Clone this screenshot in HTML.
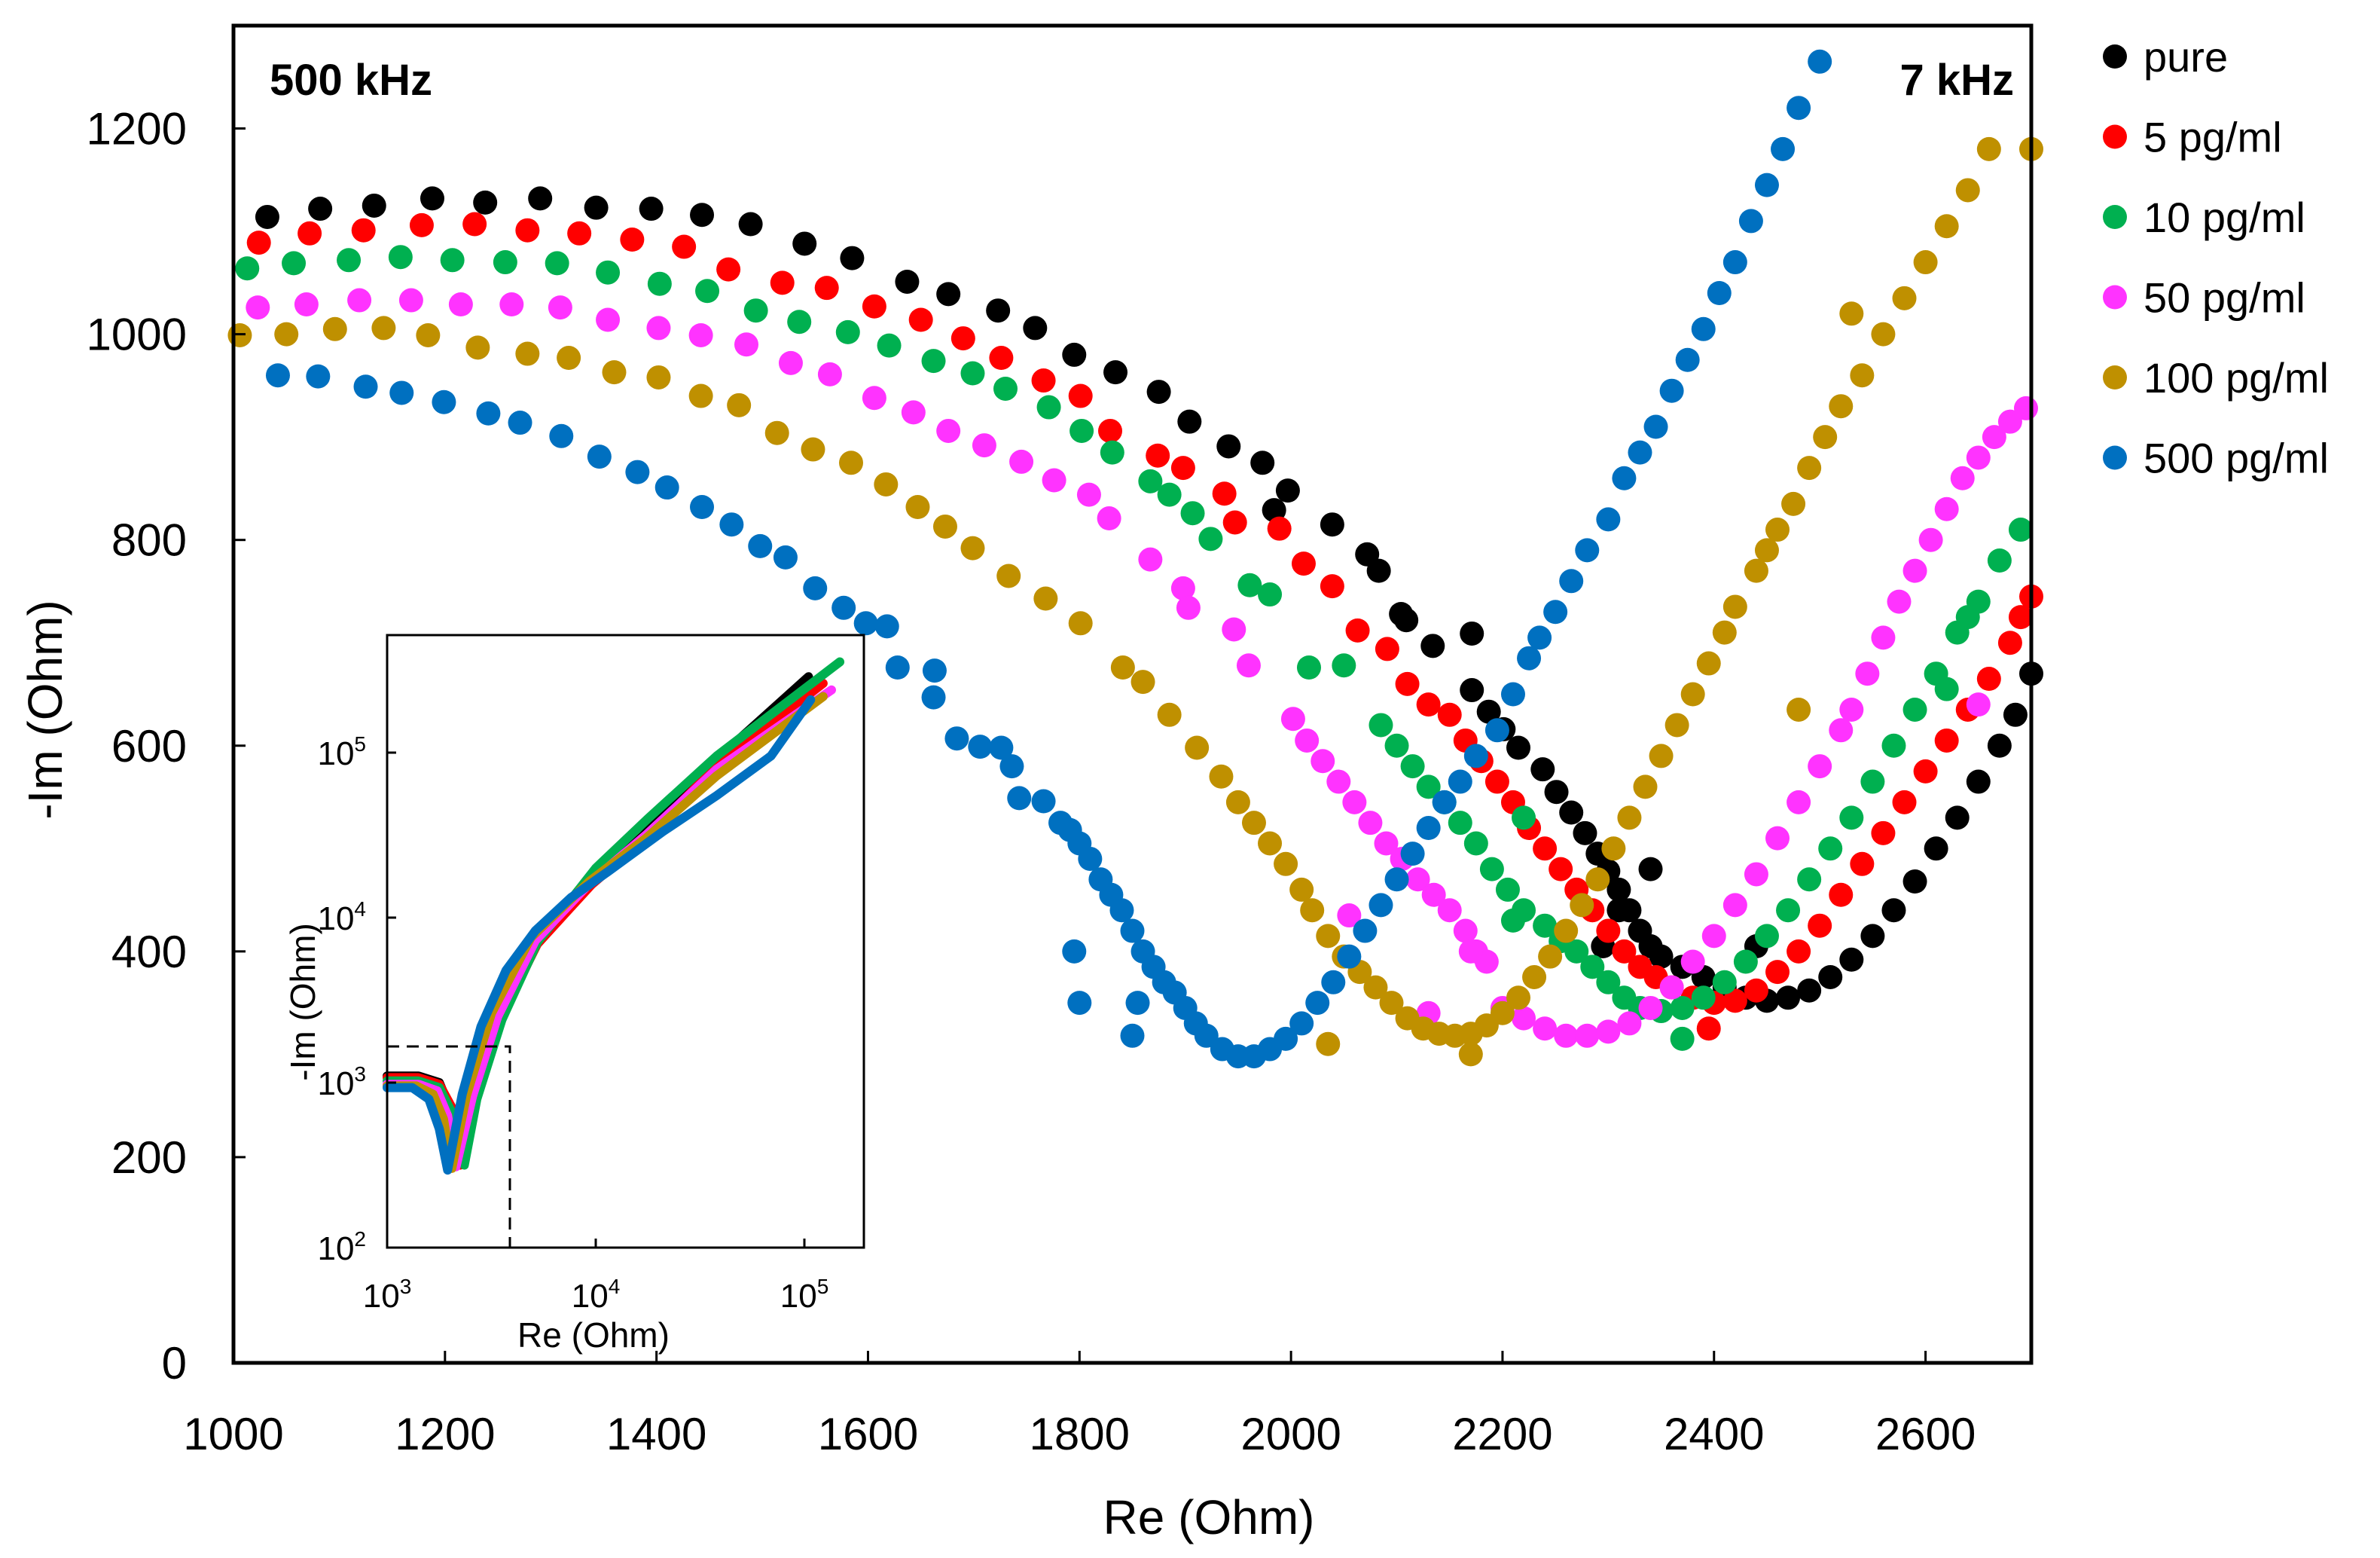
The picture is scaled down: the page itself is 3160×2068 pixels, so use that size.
<!DOCTYPE html>
<html><head><meta charset="utf-8"><style>
html,body{margin:0;padding:0;background:#fff;}
svg{display:block;font-family:"Liberation Sans",Arial,sans-serif;}
</style></head><body>
<svg id="chart" width="3160" height="2068" viewBox="0 0 3160 2068" xmlns="http://www.w3.org/2000/svg">
<rect width="3160" height="2068" fill="#fff"/>
<g id="main-marks"></g>
<g id="inset"></g>
<g id="axes"></g>
<g id="legend"></g>
<text x="358" y="126" font-size="58" font-weight="bold">500 kHz</text>
<text x="2674" y="126" font-size="58" font-weight="bold" text-anchor="end">7 kHz</text>
<text x="1605" y="2036" font-size="64" text-anchor="middle">Re (Ohm)</text>
<text x="0" y="0" font-size="64" text-anchor="middle" transform="translate(82,942) rotate(-90)">-Im (Ohm)</text>
</svg>
<script>
const seriesNames = ["pure","5 pg/ml","10 pg/ml","50 pg/ml","100 pg/ml","500 pg/ml"];
const seriesColors = ["#000000","#ff0000","#00b050","#ff33ff","#bf9000","#0070c0"];
const xTicks = [1000,1200,1400,1600,1800,2000,2200,2400,2600];
const yTicks = [0,200,400,600,800,1000,1200];

const pureRe = [1032,1082,1133,1188,1238,1290,1343,1395,1443,1489,1540,1585,1637,1676,1723,1758,1795,1834,1875,1904,1941,1973,1984,1997,2039,2072,2083,2104,2109,2134,2171,2171,2187,2201,2215,2238,2251,2265,2278,2290,2300,2310,2320,2330,2340,2350,2370,2390,2410,2430,2450,2470,2490,2510,2530,2550,2570,2590,2610,2630,2650,2670,2685,2700,2340,2310,2295,2440];
const pureIm = [1114,1122,1125,1132,1128,1132,1123,1122,1116,1107,1088,1074,1051,1039,1023,1006,980,963,944,915,891,875,829,848,815,786,770,728,722,697,709,654,633,616,598,577,555,535,515,495,478,460,440,420,405,395,385,375,365,355,352,355,362,375,392,415,440,468,500,530,565,600,630,670,480,440,405,405];

const p5Re = [1024,1072,1123,1178,1228,1278,1327,1377,1426,1468,1519,1561,1606,1650,1690,1726,1766,1801,1829,1874,1898,1937,1947,1989,2012,2039,2063,2091,2110,2130,2150,2165,2180,2195,2210,2225,2240,2255,2270,2285,2300,2315,2330,2345,2360,2380,2400,2420,2440,2460,2480,2500,2520,2540,2560,2580,2600,2620,2640,2660,2680,2690,2700,2395];
const p5Im = [1089,1098,1101,1106,1107,1101,1098,1092,1085,1063,1050,1045,1027,1014,996,977,955,940,906,882,870,845,817,811,777,755,712,694,660,640,630,605,585,565,545,520,500,480,460,440,420,400,385,375,365,355,350,352,362,380,400,425,455,485,515,545,575,605,635,665,700,725,745,325];

const p10Re = [1013,1057,1109,1158,1207,1257,1306,1354,1403,1448,1494,1535,1581,1620,1662,1699,1730,1771,1802,1831,1867,1885,1907,1924,1961,1980,2017,2050,2085,2100,2115,2130,2145,2160,2175,2190,2205,2220,2240,2255,2270,2285,2300,2315,2330,2350,2370,2390,2410,2430,2450,2470,2490,2510,2530,2550,2570,2590,2610,2630,2650,2670,2690,2370,2210,2220,2640,2620];
const p10Im = [1064,1069,1072,1075,1072,1070,1069,1060,1049,1042,1023,1012,1002,989,974,962,947,929,906,885,857,844,826,801,756,747,676,678,620,600,580,560,545,525,505,480,460,440,425,410,400,385,370,355,345,342,345,355,370,390,415,440,470,500,530,565,600,635,670,710,740,780,810,315,430,530,725,655];

const p50Re = [1023,1069,1119,1168,1215,1263,1309,1354,1402,1442,1485,1527,1564,1606,1643,1676,1710,1745,1776,1809,1828,1867,1898,1903,1946,1960,2002,2015,2030,2045,2060,2075,2090,2105,2120,2135,2150,2165,2175,2185,2200,2220,2240,2260,2280,2300,2320,2340,2360,2380,2400,2420,2440,2460,2480,2500,2520,2530,2545,2560,2575,2590,2605,2620,2635,2650,2665,2680,2695,2055,2130,2170,2650];
const p50Im = [1026,1029,1033,1033,1029,1029,1026,1014,1006,999,990,972,961,938,924,906,892,876,858,844,821,781,753,734,713,678,626,605,585,565,545,525,505,490,470,455,440,420,400,390,345,335,325,318,318,322,330,345,365,390,415,445,475,510,545,580,615,635,670,705,740,770,800,830,860,880,900,915,928,435,340,400,640];

const p100Re = [1006,1050,1096,1142,1184,1231,1278,1317,1360,1402,1442,1478,1514,1548,1584,1617,1647,1673,1699,1733,1768,1801,1841,1860,1885,1911,1934,1950,1965,1980,1995,2010,2020,2035,2050,2065,2080,2095,2110,2125,2140,2155,2170,2185,2200,2215,2230,2245,2260,2275,2290,2305,2320,2335,2350,2365,2380,2395,2410,2420,2440,2450,2460,2475,2490,2505,2520,2540,2560,2580,2600,2620,2640,2660,2700,2035,2170,2480,2530];
const p100Im = [999,1000,1005,1006,999,987,981,977,963,958,940,931,904,888,875,854,832,813,792,765,743,719,676,662,630,598,570,545,525,505,485,460,440,415,395,380,365,350,335,325,320,318,320,328,340,355,375,395,420,445,470,500,530,560,590,620,650,680,710,735,770,790,810,835,870,900,930,960,1000,1035,1070,1105,1140,1180,1180,310,300,635,1020];

const p500Re = [1042,1080,1125,1159,1199,1241,1271,1310,1346,1382,1410,1443,1471,1498,1522,1550,1577,1598,1618,1628,1663,1662,1684,1706,1726,1736,1743,1766,1782,1791,1800,1810,1820,1830,1840,1850,1860,1870,1880,1890,1900,1910,1920,1935,1950,1965,1980,1995,2010,2025,2040,2055,2070,2085,2100,2115,2130,2145,2160,2175,2195,2210,2225,2235,2250,2265,2280,2300,2315,2330,2345,2360,2375,2390,2405,2420,2435,2450,2465,2480,2500,1795,1800,1850,1855];
const p500Im = [960,959,949,943,934,923,914,901,881,866,851,832,815,794,783,753,734,719,716,676,673,647,607,599,598,580,549,546,525,518,505,490,470,455,440,420,400,385,370,360,345,330,318,305,298,298,305,315,330,350,370,395,420,445,470,495,520,545,565,590,615,650,685,705,730,760,790,820,860,885,910,945,975,1005,1040,1070,1110,1145,1180,1220,1265,400,350,318,350];

const insetPureRe = [3.0,3.15,3.25,3.30,3.33,3.41,3.53,3.71,3.97,4.23,4.58,5.02];
const insetPureIm = [3.04,3.04,3.0,2.85,2.51,2.93,3.40,3.85,4.20,4.50,4.96,5.46];
const inset5Re = [3.0,3.15,3.25,3.31,3.35,3.42,3.54,3.72,3.98,4.24,4.58,5.09];
const inset5Im = [3.03,3.03,2.99,2.85,2.50,2.90,3.38,3.84,4.20,4.48,4.92,5.42];
const inset10Re = [3.0,3.15,3.25,3.31,3.37,3.43,3.55,3.72,4.0,4.25,4.58,5.17];
const inset10Im = [3.01,3.01,2.97,2.82,2.50,2.90,3.38,3.85,4.30,4.60,4.98,5.55];
const inset50Re = [3.0,3.15,3.24,3.29,3.33,3.41,3.53,3.71,3.98,4.24,4.58,5.13];
const inset50Im = [2.99,2.99,2.95,2.80,2.49,2.92,3.40,3.86,4.22,4.50,4.90,5.38];
const inset100Re = [3.0,3.14,3.22,3.27,3.31,3.38,3.50,3.69,3.97,4.24,4.58,5.09];
const inset100Im = [2.98,2.98,2.93,2.78,2.48,2.92,3.42,3.88,4.22,4.48,4.86,5.34];
const inset500Re = [3.0,3.12,3.20,3.25,3.29,3.36,3.45,3.57,3.71,3.88,4.06,4.32,4.58,4.84,5.03];
const inset500Im = [2.97,2.97,2.90,2.72,2.47,2.93,3.34,3.68,3.92,4.12,4.28,4.52,4.74,4.98,5.32];

const mainRe = [pureRe,p5Re,p10Re,p50Re,p100Re,p500Re];
const mainIm = [pureIm,p5Im,p10Im,p50Im,p100Im,p500Im];
const insetRe = [insetPureRe,inset5Re,inset10Re,inset50Re,inset100Re,inset500Re];
const insetIm = [insetPureIm,inset5Im,inset10Im,inset50Im,inset100Im,inset500Im];

const NS = "http://www.w3.org/2000/svg";
const X0=310, X1=2697, Y0=1809, Y1=34;
const xMin=1000, xMax=2700, yMin=0, yMax=1300;
function xs(v){return X0+(v-xMin)/(xMax-xMin)*(X1-X0);}
function ys(v){return Y0-(v-yMin)/(yMax-yMin)*(Y0-Y1);}
const IX0=514, IX1=1147, IY0=1656, IY1=843;
function ixs(lg){return IX0+(lg-3)*277;}
function iys(lg){return IY0-(lg-2)*219;}
function mk(tag, attrs, parent){const e=document.createElementNS(NS,tag);for(const k in attrs)e.setAttribute(k,attrs[k]);parent.appendChild(e);return e;}

const marks=document.getElementById('main-marks');
mainRe.forEach((arr,s)=>{
  const g=mk('g',{},marks);
  
  
  arr.forEach((re,i)=>{
    const c=mk('circle',{cx:xs(re),cy:ys(mainIm[s][i]),r:16,fill:seriesColors[s]},g);
    
    
  });
});

const inset=document.getElementById('inset');
const ibg=mk('rect',{x:IX0,y:IY1,width:IX1-IX0,height:IY0-IY1,fill:'#fff',stroke:'#000','stroke-width':3},inset);


insetRe.forEach((arr,s)=>{
  const pts=arr.map((v,i)=>ixs(v)+','+iys(insetIm[s][i])).join(' ');
  const pl=mk('polyline',{points:pts,fill:'none',stroke:seriesColors[s],'stroke-width':12,'stroke-linejoin':'round','stroke-linecap':'round'},inset);
  
  
});
const dash=mk('polyline',{points:IX0+','+1389+' 677,1389 677,'+IY0,fill:'none',stroke:'#000','stroke-width':3,'stroke-dasharray':'16,10'},inset);


const iframe=mk('rect',{x:IX0,y:IY1,width:IX1-IX0,height:IY0-IY1,fill:'none',stroke:'#000','stroke-width':3},inset);


[3,4,5].forEach(p=>{
  const x=ixs(p);
  mk('line',{x1:x,y1:IY0,x2:x,y2:IY0-12,stroke:'#000','stroke-width':3},inset);
  const t=mk('text',{x:x,y:1735,'font-size':44,'text-anchor':'middle'},inset);
  
  
  t.innerHTML='10<tspan dy="-18" font-size="28">'+p+'</tspan>';
});
[2,3,4,5].forEach(p=>{
  const y=iys(p);
  mk('line',{x1:IX0,y1:y,x2:IX0+12,y2:y,stroke:'#000','stroke-width':3},inset);
  const t=mk('text',{x:486,y:y+16,'font-size':44,'text-anchor':'end'},inset);
  
  
  t.innerHTML='10<tspan dy="-18" font-size="28">'+p+'</tspan>';
});
const ixt=mk('text',{x:788,y:1788,'font-size':46,'text-anchor':'middle'},inset);


ixt.textContent='Re (Ohm)';
const iyt=mk('text',{x:0,y:0,'font-size':46,'text-anchor':'middle',transform:'translate(418,1330) rotate(-90)'},inset);


iyt.textContent='-Im (Ohm)';

const axes=document.getElementById('axes');
const frame=mk('rect',{x:X0,y:Y1,width:X1-X0,height:Y0-Y1,fill:'none',stroke:'#000','stroke-width':5},axes);


xTicks.forEach(v=>{
  const x=xs(v);
  mk('line',{x1:x,y1:Y0,x2:x,y2:Y0-16,stroke:'#000','stroke-width':3},axes);
  const t=mk('text',{x:x,y:1924,'font-size':60,'text-anchor':'middle'},axes);
  
  
  t.textContent=v;
});
yTicks.forEach(v=>{
  const y=ys(v);
  mk('line',{x1:X0,y1:y,x2:X0+16,y2:y,stroke:'#000','stroke-width':3},axes);
  const t=mk('text',{x:248,y:y+21,'font-size':60,'text-anchor':'end'},axes);
  
  
  t.textContent=v;
});

const legend=document.getElementById('legend');
seriesNames.forEach((n,i)=>{
  const y=75+i*106.5;
  const g=mk('g',{},legend);
  
  
  mk('circle',{cx:2808,cy:y,r:16,fill:seriesColors[i]},g);
  const t=mk('text',{x:2846,y:y+20,'font-size':56},g);
  t.textContent=n;
});
</script>
</body></html>
